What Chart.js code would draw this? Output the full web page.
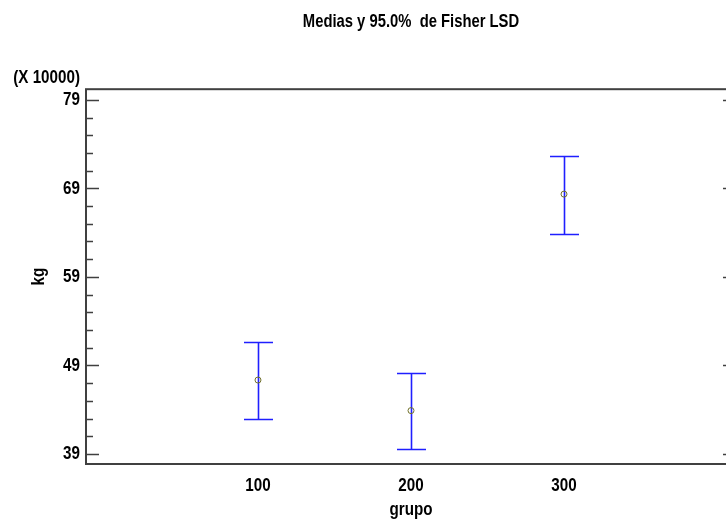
<!DOCTYPE html>
<html>
<head>
<meta charset="utf-8">
<script src="https://cdn.jsdelivr.net/npm/chart.js@4/dist/chart.umd.min.js"></script>
<style>
  html, body { margin: 0; padding: 0; background: #fff; overflow: hidden; }
  #wrap { width: 726px; height: 522px; overflow: hidden; }
</style>
</head>
<body>
<div id="wrap"><canvas id="myChart" width="760" height="522"></canvas></div>
<script>
// values in units of 10000 kg
const groups = [100, 200, 300];
const means = [47.35, 43.9, 68.35];
const lower = [42.95, 39.55, 63.9];
const upper = [51.6, 48.2, 72.6];

const yTicks = [39, 41, 43, 45, 47, 49, 51, 53, 55, 57, 59, 61, 63, 65, 67, 69, 71, 73, 75, 77, 79];
const yLabels = [39, 49, 59, 69, 79];
const xLabels = [100, 200, 300];

const FONT = "'Liberation Sans', Arial, sans-serif";
const AXIS = '#404040';

const frameAndBars = {
  id: 'frameAndBars',
  beforeDatasetsDraw(chart) {
    const { ctx, chartArea: a, scales: { x, y } } = chart;
    ctx.save();

    // error bars
    ctx.strokeStyle = '#1f1fff';
    ctx.lineWidth = 1.6;
    groups.forEach((g, i) => {
      const px = Math.round(x.getPixelForValue(g)) + 0.5;
      const top = Math.round(y.getPixelForValue(upper[i])) + 0.5;
      const bot = Math.round(y.getPixelForValue(lower[i])) + 0.5;
      ctx.beginPath();
      ctx.moveTo(px, top); ctx.lineTo(px, bot);
      ctx.moveTo(px - 14.5, top); ctx.lineTo(px + 14.5, top);
      ctx.moveTo(px - 14.5, bot); ctx.lineTo(px + 14.5, bot);
      ctx.stroke();
    });

    // inner ticks, left and right
    ctx.strokeStyle = AXIS;
    ctx.lineWidth = 1.5;
    yTicks.forEach(v => {
      const py = Math.round(y.getPixelForValue(v)) + 0.5;
      const len = yLabels.includes(v) ? 13 : 7;
      ctx.beginPath();
      ctx.moveTo(a.left, py); ctx.lineTo(a.left + len, py);
      ctx.moveTo(a.right, py); ctx.lineTo(a.right - len, py);
      ctx.stroke();
    });

    // frame
    ctx.lineWidth = 2;
    ctx.strokeRect(a.left, a.top, a.right - a.left, a.bottom - a.top);

    // scale factor label
    ctx.fillStyle = '#000';
    ctx.font = 'bold 19px ' + FONT;
    ctx.textAlign = 'right';
    ctx.textBaseline = 'middle';
    ctx.fillText('(X 10000)', a.left - 6, 78);
    ctx.restore();
  }
};

const ctx = document.getElementById('myChart').getContext('2d');

// the original uses a condensed bold face: squeeze all text horizontally
const rawFillText = ctx.fillText;
ctx.fillText = function (text, x, y, maxWidth) {
  this.save();
  this.translate(x, y);
  this.scale(0.8, 1);
  rawFillText.call(this, text, 0, 0);
  this.restore();
};

const myChart = new Chart(ctx, {
  type: 'scatter',
  data: {
    datasets: [{
      label: 'Media',
      data: groups.map((g, i) => ({ x: g, y: means[i] })),
      pointStyle: 'circle',
      pointRadius: 3,
      pointHoverRadius: 3,
      borderColor: '#70702a',
      backgroundColor: 'rgba(0,0,0,0)',
      borderWidth: 1
    }]
  },
  options: {
    responsive: false,
    animation: false,
    events: [],
    layout: {
      padding: { left: 0, right: 24, top: 0, bottom: 0 }
    },
    scales: {
      x: {
        type: 'linear',
        min: -12.4,
        max: 412.4,
        afterBuildTicks: s => { s.ticks = xLabels.map(v => ({ value: v })); },
        afterFit: s => { s.height = 58; },
        grid: { display: false, drawTicks: false },
        border: { display: false },
        ticks: {
          color: '#000',
          padding: 10,
          maxRotation: 0,
          font: { family: FONT, size: 19, weight: 'bold' }
        },
        title: {
          display: true,
          text: 'grupo',
          color: '#000',
          padding: { top: 0, bottom: 1 },
          font: { family: FONT, size: 19, weight: 'bold' }
        }
      },
      y: {
        min: 37.87,
        max: 80.2,
        afterBuildTicks: s => { s.ticks = yTicks.map(v => ({ value: v })); },
        afterFit: s => { s.width = 86; },
        grid: { display: false, drawTicks: false },
        border: { display: false },
        ticks: {
          color: '#000',
          padding: 6,
          autoSkip: false,
          font: { family: FONT, size: 19, weight: 'bold' },
          callback: v => yLabels.includes(v) ? String(v) : ''
        },
        title: {
          display: true,
          text: 'kg',
          color: '#000',
          padding: { top: 27, bottom: 0 },
          font: { family: FONT, size: 19, weight: 'bold' }
        }
      }
    },
    plugins: {
      legend: { display: false },
      tooltip: { enabled: false },
      title: {
        display: true,
        fullSize: false,
        text: 'Medias y 95.0%  de Fisher LSD',
        color: '#000',
        padding: { top: 11, bottom: 56 },
        font: { family: FONT, size: 18.5, weight: 'bold' }
      }
    }
  },
  plugins: [frameAndBars]
});
</script>
</body>
</html>
